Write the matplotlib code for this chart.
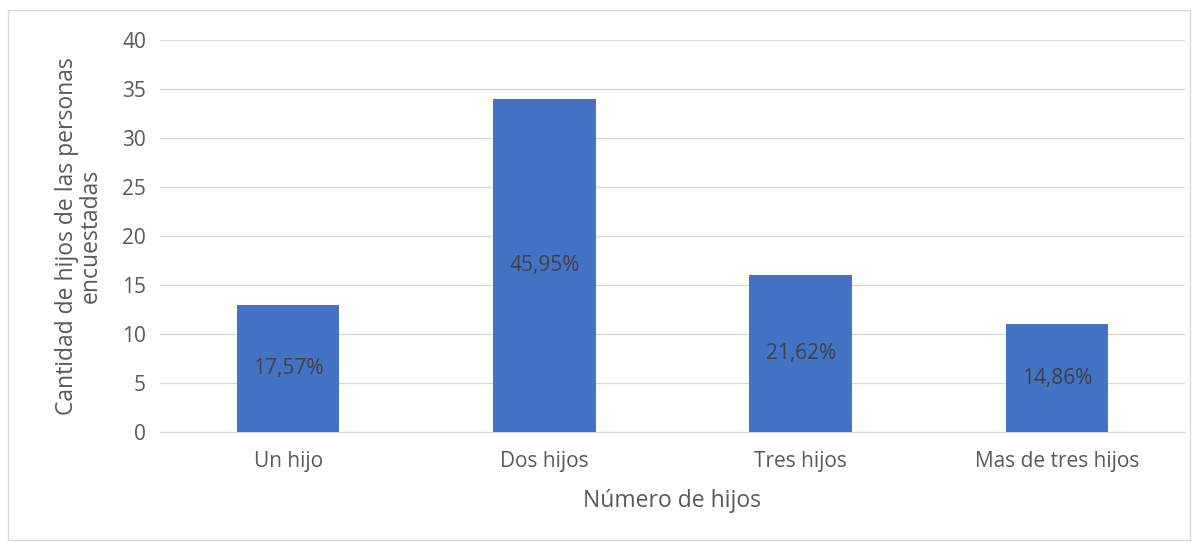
import matplotlib.pyplot as plt
from matplotlib.patches import Rectangle

categorias = ['Un hijo', 'Dos hijos', 'Tres hijos', 'Mas de tres hijos']
cantidades = [13, 34, 16, 11]
porcentajes = ['17,57%', '45,95%', '21,62%', '14,86%']

plt.rcParams['font.family'] = ['Open Sans', 'DejaVu Sans']
gris = '#595959'

fig = plt.figure(figsize=(12, 5.43), dpi=100)
ax = fig.add_axes([0.1333, 1 - 432 / 543, (1185 - 160) / 1200, (432 - 40) / 543])

x = range(len(categorias))
bars = ax.bar(x, cantidades, width=0.4, color='#4472C4', zorder=3)
for b, txt in zip(bars, porcentajes):
    ax.text(b.get_x() + b.get_width() / 2, b.get_height() / 2, txt,
            ha='center', va='center', fontsize=15, color='#404040', zorder=4)

ax.set_xlim(-0.5, 3.5)
ax.set_ylim(0, 40)
ax.set_yticks(range(0, 41, 5))
ax.set_xticks(list(x))
ax.set_xticklabels(categorias)
ax.yaxis.grid(True, color='#D9D9D9', linewidth=1, zorder=0)
for s in ['top', 'right', 'left']:
    ax.spines[s].set_visible(False)
ax.spines['bottom'].set_color('#D9D9D9')
ax.tick_params(axis='both', length=0, labelsize=15, colors=gris)
ax.tick_params(axis='x', pad=14)
ax.tick_params(axis='y', pad=10)

ax.set_xlabel('Número de hijos', fontsize=16.5, color=gris, labelpad=12)
ax.set_ylabel('Cantidad de hijos de las personas\nencuestadas', fontsize=16.5,
              color=gris, labelpad=14, linespacing=1.0)

fig.patches.append(Rectangle((8 / 1200, 3 / 543), 1182 / 1200, 530 / 543,
                             transform=fig.transFigure, fill=False,
                             edgecolor='#D9D9D9', linewidth=1))

fig.savefig('out.png', dpi=100)
